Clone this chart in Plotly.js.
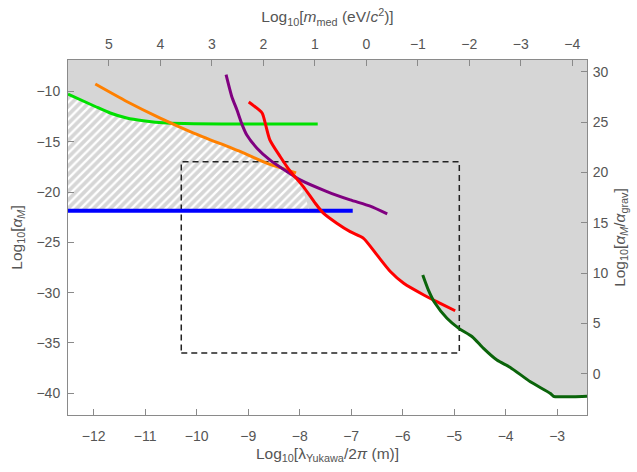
<!DOCTYPE html>
<html>
<head>
<meta charset="utf-8">
<script src="https://cdn.plot.ly/plotly-3.0.1.min.js"></script>
<style>html,body{margin:0;padding:0;background:#fff}#chart{width:637px;height:472px}</style>
</head>
<body>
<div id="chart"></div>
<script>
// ---- data (log10 values) ----
const xRange = [-12.5, -2.42];
const yRange = [-42.16, -6.88];
const gravOffset = 38.05;      // log10(alpha_M/alpha_grav) = log10(alpha_M) + gravOffset
const massOffset = -6.705;     // log10(m_med) = massOffset - log10(lambda/2pi)

const greenX = [-12.5, -11.97, -11.68, -11.36, -11.04, -10.58, -10.06, -9.0, -7.65];
const greenY = [-10.26, -11.5, -12.15, -12.65, -12.92, -13.15, -13.22, -13.25, -13.25];

const orangeX = [-11.97, -11.36, -10.71, -10.06, -9.16, -8.64, -8.07];
const orangeY = [-9.27, -11.0, -12.65, -14.14, -15.97, -17.13, -18.1];

const purpleX = [-9.43, -9.32, -9.22, -9.13, -9.03, -8.83, -8.58, -8.25, -7.99, -7.47, -7.02, -6.63, -6.3];
const purpleY = [-8.34, -10.5, -11.83, -13.15, -14.31, -15.64, -16.8, -17.96, -18.79, -19.95, -20.78, -21.4, -22.17];

const redX = [-8.99, -8.73, -8.67, -8.58, -8.38, -8.18, -7.93, -7.7, -7.54, -7.28, -7.02, -6.76, -6.5, -6.24, -5.98, -5.59, -5.27, -4.98];
const redY = [-11.06, -12.15, -13.15, -14.81, -16.47, -17.96, -19.46, -21.1, -22.1, -23.1, -23.94, -24.6, -26.25, -27.9, -29.07, -30.23, -31.06, -31.8];

const dgreenX = [-5.61, -5.5, -5.37, -5.14, -4.91, -4.65, -4.43, -4.17, -3.91, -3.52, -3.13, -3.07, -2.94, -2.68, -2.42];
const dgreenY = [-28.24, -29.74, -31.06, -32.55, -33.55, -34.38, -35.54, -36.7, -37.43, -38.86, -40.02, -40.3, -40.35, -40.35, -40.3];

const blueX = [-12.5, -6.97];
const blueY = [-21.85, -21.85];

const boxX = [-10.3, -4.9];
const boxY = [-36.0, -17.0];

const hatchEndX = -7.8;        // where hatched area meets the blue line
const greenOrangeCrossX = -10.5;
const redGreenCrossX = -5.42;

const xTicks = [-12, -11, -10, -9, -8, -7, -6, -5, -4, -3];
const mTicks = [5, 4, 3, 2, 1, 0, -1, -2, -3, -4];
const yTicks = [-40, -35, -30, -25, -20, -15, -10];
const y2Ticks = [0, 5, 10, 15, 20, 25, 30];

// ---- derived polygons ----
const greyX = [xRange[0]], greyY = [blueY[0]];
redX.forEach((x, i) => { if (redY[i] <= blueY[0] + 0.3 && x < redGreenCrossX) { greyX.push(x); greyY.push(redY[i]); } });
dgreenX.forEach((x, i) => { if (x > redGreenCrossX) { greyX.push(x); greyY.push(dgreenY[i]); } });
greyX.push(xRange[1], xRange[1], xRange[0], xRange[0]);
greyY.push(dgreenY[dgreenY.length - 1], yRange[1], yRange[1], blueY[0]);

const hatchX = [xRange[0]], hatchY = [blueY[0]];
greenX.forEach((x, i) => { if (x <= greenOrangeCrossX) { hatchX.push(x); hatchY.push(greenY[i]); } });
orangeX.forEach((x, i) => { if (x > greenOrangeCrossX) { hatchX.push(x); hatchY.push(orangeY[i]); } });
hatchX.push(hatchEndX, xRange[0]);
hatchY.push(blueY[0], blueY[0]);

const boxPathX = [boxX[0], boxX[1], boxX[1], boxX[0], boxX[0]];
const boxPathY = [boxY[0], boxY[0], boxY[1], boxY[1], boxY[0]];

const grey = '#d6d6d6';
const axisCol = '#8a8a8a';
const textCol = '#555555';
const font = {family: 'Liberation Sans, Arial, sans-serif', size: 14, color: textCol};
const tfont = {family: 'Liberation Sans, Arial, sans-serif', size: 15.5, color: textCol};

const line = (x, y, color, w) => ({x, y, type: 'scatter', mode: 'lines', hoverinfo: 'skip',
  line: {color, width: w, shape: 'spline', smoothing: 0.6}});

const traces = [
  {x: greyX, y: greyY, type: 'scatter', mode: 'lines', fill: 'toself', fillcolor: grey,
   line: {width: 0, color: grey}, hoverinfo: 'skip'},
  {x: hatchX, y: hatchY, type: 'scatter', mode: 'lines', fill: 'toself', fillcolor: grey,
   fillpattern: {shape: '/', fgcolor: '#ffffff', bgcolor: grey, size: 6, solidity: 0.4},
   line: {width: 0, color: grey}, hoverinfo: 'skip'},
  {x: boxPathX, y: boxPathY, type: 'scatter', mode: 'lines', hoverinfo: 'skip',
   line: {color: '#222222', width: 1.5, dash: '6px,4px'}},
  line(blueX, blueY, '#0000ff', 4),
  line(greenX, greenY, '#00e000', 3),
  line(orangeX, orangeY, '#ff8000', 3),
  line(purpleX, purpleY, '#800080', 3),
  line(redX, redY, '#ff0000', 3),
  line(dgreenX, dgreenY, '#0a640a', 3),
  // empty trace that registers the secondary (top / right) axes
  {x: [null], y: [null], xaxis: 'x2', yaxis: 'y2', type: 'scatter', mode: 'lines', hoverinfo: 'skip', showlegend: false}
];

const baseAxis = {
  showgrid: false, zeroline: false, showline: true, linecolor: axisCol, linewidth: 1,
  ticks: 'inside', ticklen: 6, tickcolor: axisCol, tickwidth: 1, tickfont: font,
  tickmode: 'array', fixedrange: true, autorange: false
};

const layout = {
  width: 637, height: 472,
  margin: {l: 68, r: 50, t: 60, b: 57, pad: 0},
  paper_bgcolor: '#ffffff', plot_bgcolor: '#ffffff',
  showlegend: false,
  xaxis: Object.assign({}, baseAxis, {
    range: xRange, tickvals: xTicks, ticklabelstandoff: 8,
    title: {text: 'Log<sub>10</sub>[λ<sub>Yukawa</sub>/2<i>π</i> (m)]', font: tfont, standoff: 5}
  }),
  xaxis2: Object.assign({}, baseAxis, {
    overlaying: 'x', side: 'top', anchor: 'y',
    range: [massOffset - xRange[0], massOffset - xRange[1]], tickvals: mTicks, ticklabelstandoff: 4,
    title: {text: 'Log<sub>10</sub>[<i>m</i><sub>med</sub> (eV/<i>c</i><sup>2</sup>)]', font: tfont, standoff: 9}
  }),
  yaxis: Object.assign({}, baseAxis, {
    range: yRange, tickvals: yTicks, ticklabelstandoff: 4,
    title: {text: 'Log<sub>10</sub>[<i>α<sub>M</sub></i>]', font: tfont, standoff: 10}
  }),
  yaxis2: Object.assign({}, baseAxis, {
    overlaying: 'y', side: 'right', anchor: 'x',
    range: [yRange[0] + gravOffset, yRange[1] + gravOffset], tickvals: y2Ticks, ticklabelstandoff: 2,
    title: {text: 'Log<sub>10</sub>[<i>α<sub>M</sub></i>/<i>α</i><sub>grav</sub>]', font: tfont, standoff: 6}
  })
};

Plotly.newPlot('chart', traces, layout, {displayModeBar: false, staticPlot: true});
</script>
</body>
</html>
